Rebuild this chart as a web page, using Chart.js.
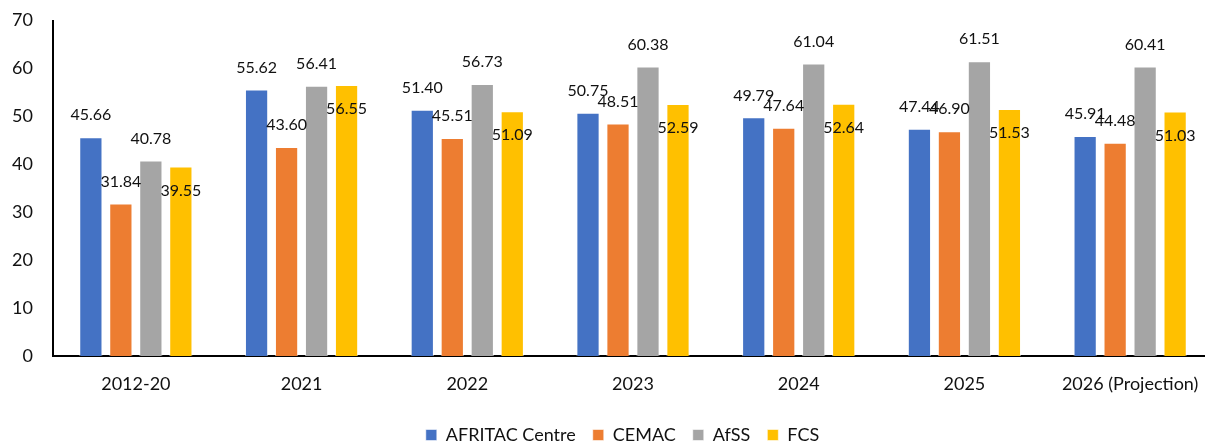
<!DOCTYPE html>
<html>
<head>
<meta charset="utf-8">
<script src="https://cdn.jsdelivr.net/npm/chart.js@4"></script>
<style>
  html, body { margin: 0; padding: 0; background: #fff; overflow: hidden; }
  /* the source chart is cut off a few pixels past the right edge */
  #wrap { width: 1205px; height: 442px; overflow: hidden; }
</style>
</head>
<body>
<div id="wrap"><canvas id="myChart" width="1213" height="442"></canvas></div>
<script>
// values
const categories = ["2012-20", "2021", "2022", "2023", "2024", "2025", "2026 (Projection)"];
const afritacCentre = [45.66, 55.62, 51.40, 50.75, 49.79, 47.44, 45.91];
const cemac = [31.84, 43.60, 45.51, 48.51, 47.64, 46.90, 44.48];
const afss = [40.78, 56.41, 56.73, 60.38, 61.04, 61.51, 60.41];
const fcs = [39.55, 56.55, 51.09, 52.59, 52.64, 51.53, 51.03];
const yMin = 0, yMax = 70, yStep = 10;

const FONT = "Lato, 'Open Sans', sans-serif";

// value labels: most sit above the bar, the FCS ones sit just inside the top
const labelShift = [-22, -22, -22, 24];

const valueLabels = {
  id: "valueLabels",
  afterDatasetsDraw(chart) {
    const ctx = chart.ctx;
    ctx.save();
    ctx.font = "16px " + FONT;
    ctx.fillStyle = "#111";
    ctx.textAlign = "center";
    ctx.textBaseline = "middle";
    chart.data.datasets.forEach((ds, i) => {
      const meta = chart.getDatasetMeta(i);
      meta.data.forEach((bar, j) => {
        ctx.fillText(ds.data[j].toFixed(2), bar.x, bar.y + labelShift[i]);
      });
    });
    ctx.restore();
  }
};

// legend in the original sits a bit right of the canvas centre
const legendNudge = {
  id: "legendNudge",
  afterLayout(chart) {
    chart.legend.left += 16;
    chart.legend.right += 16;
  }
};

const ctx = document.getElementById("myChart").getContext("2d");
const myChart = new Chart(ctx, {
  type: "bar",
  data: {
    labels: categories,
    datasets: [
      { label: "AFRITAC Centre", data: afritacCentre, backgroundColor: "#4472C4" },
      { label: "CEMAC", data: cemac, backgroundColor: "#ED7D31" },
      { label: "AfSS", data: afss, backgroundColor: "#A5A5A5" },
      { label: "FCS", data: fcs, backgroundColor: "#FFC000" }
    ]
  },
  options: {
    responsive: false,
    animation: false,
    devicePixelRatio: 1,
    datasets: {
      bar: {
        categoryPercentage: 0.724,
        barPercentage: 0.775,
        borderColor: "rgba(255,255,255,0.55)",
        borderWidth: 1
      }
    },
    layout: { padding: { top: 20.5, left: 0, right: 0, bottom: -12 } },
    plugins: {
      legend: {
        position: "bottom",
        labels: {
          boxWidth: 11,
          boxHeight: 11,
          padding: 17,
          color: "#111",
          font: { family: FONT, size: 18 }
        }
      },
      tooltip: { enabled: false }
    },
    scales: {
      x: {
        grid: { display: false },
        border: { display: true, color: "#000", width: 2 },
        ticks: { color: "#111", padding: 9, maxRotation: 0, font: { family: FONT, size: 18 } },
        afterFit(scale) { scale.height = 53; }
      },
      y: {
        min: yMin,
        max: yMax,
        grid: { display: false, tickLength: 20 },
        border: { display: true, color: "#000", width: 2 },
        ticks: { stepSize: yStep, color: "#111", padding: 0, font: { family: FONT, size: 18 } },
        afterFit(scale) { scale.width = 53; }
      }
    }
  },
  plugins: [valueLabels, legendNudge]
});
</script>
</body>
</html>
